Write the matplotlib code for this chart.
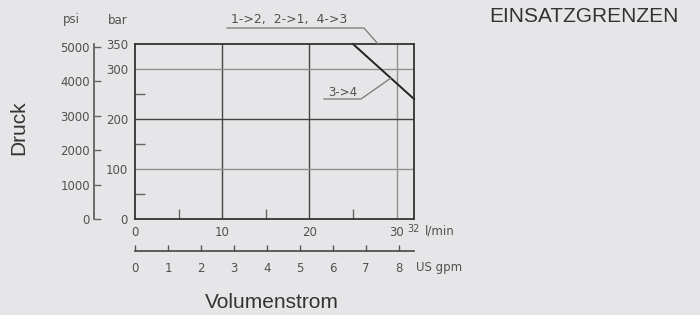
import matplotlib
matplotlib.use("Agg")
from matplotlib import pyplot as plt

# data
bar_ticks = [0, 100, 200, 300, 350]
bar_minor = [50, 150, 250]
psi_ticks = [0, 1000, 2000, 3000, 4000, 5000]
lpm_ticks = [0, 10, 20, 30]
lpm_minor = [5, 15, 25]
gpm_ticks = [0, 1, 2, 3, 4, 5, 6, 7, 8]
limit_flow = [25, 32]        # l/min
limit_press = [350, 240]     # bar
grid_x_dark = [10, 20]
grid_x_light = [30]
grid_y_dark = [200]
grid_y_light = [100, 300]

PSI_PER_BAR = 14.5038
LPM_PER_GPM = 3.78541

BG = "#e6e6e8"
INK = "#333333"
TECH = "#505050"
W, H = 700, 315

fig = plt.figure(figsize=(7, 3.15), dpi=100, facecolor=BG)


def box(l, t, r, b):
    return [l / W, 1 - b / H, (r - l) / W, (b - t) / H]


def px(x, y):
    return x / W, 1 - y / H


ax = fig.add_axes(box(135, 44, 414, 219))
ax.set_facecolor(BG)
ax.set_xlim(0, 32)
ax.set_ylim(0, 350)
for s in ax.spines.values():
    s.set_color("#333333")
    s.set_linewidth(1.3)

for x in grid_x_dark:
    ax.axvline(x, color="#444444", lw=1.0)
for x in grid_x_light:
    ax.axvline(x, color="#909090", lw=1.0)
for y in grid_y_dark:
    ax.axhline(y, color="#444444", lw=1.0)
for y in grid_y_light:
    ax.axhline(y, color="#909090", lw=1.0)

ax.plot(limit_flow, limit_press, color="#222222", lw=1.4, clip_on=False)

tfont = dict(family="DejaVu Sans", size=8.5, color=TECH)

ax.set_yticks(bar_ticks)
ax.set_yticklabels([str(v) for v in bar_ticks], **tfont)
ax.set_yticks(bar_minor, minor=True)
ax.set_xticks(lpm_ticks)
ax.set_xticklabels([str(v) for v in lpm_ticks], **tfont)
ax.set_xticks(lpm_minor, minor=True)
ax.tick_params(which="major", length=0, pad=5)
ax.tick_params(which="minor", direction="in", length=7, width=1.0, color="#666666")

# 32 and unit on l/min axis
fig.text(*px(414, 229), "32", ha="center", va="center",
         family="DejaVu Sans", size=7, color=TECH)
fig.text(*px(425, 231), "l/min", ha="left", va="center", **tfont)

# psi axis
psi = ax.secondary_yaxis(-41 / 279, functions=(lambda b: b * PSI_PER_BAR,
                                               lambda p: p / PSI_PER_BAR))
psi.set_yticks(psi_ticks)
psi.set_yticklabels([str(v) for v in psi_ticks], **tfont)
psi.tick_params(direction="in", length=5, width=1.0, color="#666666", pad=3)
psi.spines["left"].set_color("#555555")
psi.spines["left"].set_linewidth(1.2)

# gpm axis
gpm = ax.secondary_xaxis(-32 / 175, functions=(lambda l: l / LPM_PER_GPM,
                                               lambda g: g * LPM_PER_GPM))
gpm.set_xticks(gpm_ticks)
gpm.set_xticklabels([str(v) for v in gpm_ticks], **tfont)
gpm.tick_params(direction="in", length=4, width=1.0, color="#555555", pad=8)
gpm.spines["bottom"].set_color("#444444")
gpm.spines["bottom"].set_linewidth(1.2)
fig.text(*px(416, 267), "US gpm", ha="left", va="center", **tfont)

# unit headers
fig.text(*px(71, 20), "psi", ha="center", va="center", **tfont)
fig.text(*px(118, 20), "bar", ha="center", va="center", **tfont)

# annotations
fig.text(*px(231, 20), "1->2,  2->1,  4->3", ha="left", va="center",
         family="DejaVu Sans", size=9, color=TECH)
fig.add_artist(plt.Line2D([227 / W, 364 / W, 378 / W],
                          [1 - 28 / H, 1 - 28 / H, 1 - 44 / H],
                          color="#777777", lw=0.9))
fig.text(*px(328, 92), "3->4", ha="left", va="center", **tfont)
fig.add_artist(plt.Line2D([324 / W, 361 / W, 391 / W],
                          [1 - 99 / H, 1 - 99 / H, 1 - 78 / H],
                          color="#777777", lw=0.9))

big = dict(family="Liberation Sans", size=15, color=INK)
fig.text(*px(19, 128), "Druck", rotation=90, ha="center", va="center", **big)
fig.text(*px(272, 303), "Volumenstrom", ha="center", va="center", **big)
fig.text(*px(584, 17), "EINSATZGRENZEN", ha="center", va="center", **big)

fig.savefig("out.png", dpi=100, facecolor=BG)
